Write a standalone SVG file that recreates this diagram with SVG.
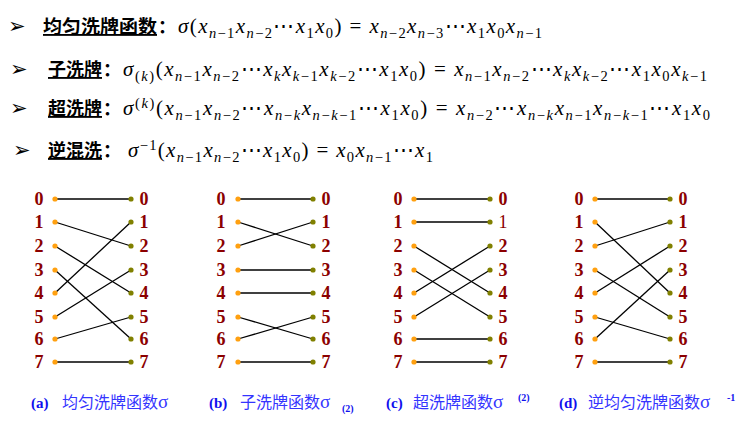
<svg xmlns="http://www.w3.org/2000/svg" width="741" height="427" viewBox="0 0 741 427">
<style>
.bul{font-family:"DejaVu Sans",sans-serif;font-size:21px;fill:#000}
.hd{font-family:"Noto Sans CJK SC",sans-serif;font-weight:bold;font-size:18.5px;fill:#000;text-decoration:underline}
.co{font-family:"Noto Sans CJK SC",sans-serif;font-weight:bold;font-size:18px;fill:#000}
.m{font-family:"Liberation Serif",serif;font-size:21px;fill:#000}
.i{font-style:italic}
.s{font-size:14.5px}
.num{font-family:"Liberation Serif",serif;font-weight:bold;font-size:18px;fill:#8B0000;text-anchor:middle}
.nr{font-weight:normal}
.ld{fill:#FFA010}
.rd{fill:#808000}
.cl{stroke:#000;stroke-width:1.3;fill:none}
.cap{font-family:"Liberation Serif",serif;font-weight:bold;font-size:15px;fill:#1010EE}
.ct{font-family:"Noto Sans CJK SC",sans-serif;font-size:16px;fill:#3434FF}
.cs{font-family:"Liberation Serif",serif;font-size:19px;fill:#3434FF}
.cx{font-family:"Liberation Serif",serif;font-weight:bold;font-size:10px;fill:#1010EE}
</style>
<rect width="741" height="427" fill="#fff"/>
<g id="formulas">
<text class="bul" x="8" y="33">➢</text>
<text class="hd" x="43" y="33" textLength="114" lengthAdjust="spacingAndGlyphs">均匀洗牌函数</text>
<text class="co" x="158" y="33">：</text>
<text class="m" x="178" y="33" textLength="364" lengthAdjust="spacing"><tspan class="i">σ</tspan>(<tspan class="i">x</tspan><tspan class="s" baseline-shift="-5"><tspan class="i">n</tspan>−1</tspan><tspan class="i">x</tspan><tspan class="s" baseline-shift="-5"><tspan class="i">n</tspan>−2</tspan>⋯<tspan class="i">x</tspan><tspan class="s" baseline-shift="-5">1</tspan><tspan class="i">x</tspan><tspan class="s" baseline-shift="-5">0</tspan>) = <tspan class="i">x</tspan><tspan class="s" baseline-shift="-5"><tspan class="i">n</tspan>−2</tspan><tspan class="i">x</tspan><tspan class="s" baseline-shift="-5"><tspan class="i">n</tspan>−3</tspan>⋯<tspan class="i">x</tspan><tspan class="s" baseline-shift="-5">1</tspan><tspan class="i">x</tspan><tspan class="s" baseline-shift="-5">0</tspan><tspan class="i">x</tspan><tspan class="s" baseline-shift="-5"><tspan class="i">n</tspan>−1</tspan></text>

<text class="bul" x="10" y="76">➢</text>
<text class="hd" x="48" y="76" textLength="54" lengthAdjust="spacingAndGlyphs">子洗牌</text>
<text class="co" x="103" y="76">：</text>
<text class="m" x="123" y="76" textLength="584" lengthAdjust="spacing"><tspan class="i">σ</tspan><tspan class="s" baseline-shift="-5">(<tspan class="i">k</tspan>)</tspan>(<tspan class="i">x</tspan><tspan class="s" baseline-shift="-5"><tspan class="i">n</tspan>−1</tspan><tspan class="i">x</tspan><tspan class="s" baseline-shift="-5"><tspan class="i">n</tspan>−2</tspan>⋯<tspan class="i">x</tspan><tspan class="s i" baseline-shift="-5">k</tspan><tspan class="i">x</tspan><tspan class="s" baseline-shift="-5"><tspan class="i">k</tspan>−1</tspan><tspan class="i">x</tspan><tspan class="s" baseline-shift="-5"><tspan class="i">k</tspan>−2</tspan>⋯<tspan class="i">x</tspan><tspan class="s" baseline-shift="-5">1</tspan><tspan class="i">x</tspan><tspan class="s" baseline-shift="-5">0</tspan>) = <tspan class="i">x</tspan><tspan class="s" baseline-shift="-5"><tspan class="i">n</tspan>−1</tspan><tspan class="i">x</tspan><tspan class="s" baseline-shift="-5"><tspan class="i">n</tspan>−2</tspan>⋯<tspan class="i">x</tspan><tspan class="s i" baseline-shift="-5">k</tspan><tspan class="i">x</tspan><tspan class="s" baseline-shift="-5"><tspan class="i">k</tspan>−2</tspan>⋯<tspan class="i">x</tspan><tspan class="s" baseline-shift="-5">1</tspan><tspan class="i">x</tspan><tspan class="s" baseline-shift="-5">0</tspan><tspan class="i">x</tspan><tspan class="s" baseline-shift="-5"><tspan class="i">k</tspan>−1</tspan></text>

<text class="bul" x="10" y="115">➢</text>
<text class="hd" x="48" y="115" textLength="54" lengthAdjust="spacingAndGlyphs">超洗牌</text>
<text class="co" x="103" y="115">：</text>
<text class="m" x="123" y="115" textLength="587" lengthAdjust="spacing"><tspan class="i">σ</tspan><tspan class="s" baseline-shift="7">(<tspan class="i">k</tspan>)</tspan>(<tspan class="i">x</tspan><tspan class="s" baseline-shift="-5"><tspan class="i">n</tspan>−1</tspan><tspan class="i">x</tspan><tspan class="s" baseline-shift="-5"><tspan class="i">n</tspan>−2</tspan>⋯<tspan class="i">x</tspan><tspan class="s" baseline-shift="-5"><tspan class="i">n</tspan>−<tspan class="i">k</tspan></tspan><tspan class="i">x</tspan><tspan class="s" baseline-shift="-5"><tspan class="i">n</tspan>−<tspan class="i">k</tspan>−1</tspan>⋯<tspan class="i">x</tspan><tspan class="s" baseline-shift="-5">1</tspan><tspan class="i">x</tspan><tspan class="s" baseline-shift="-5">0</tspan>) = <tspan class="i">x</tspan><tspan class="s" baseline-shift="-5"><tspan class="i">n</tspan>−2</tspan>⋯<tspan class="i">x</tspan><tspan class="s" baseline-shift="-5"><tspan class="i">n</tspan>−<tspan class="i">k</tspan></tspan><tspan class="i">x</tspan><tspan class="s" baseline-shift="-5"><tspan class="i">n</tspan>−1</tspan><tspan class="i">x</tspan><tspan class="s" baseline-shift="-5"><tspan class="i">n</tspan>−<tspan class="i">k</tspan>−1</tspan>⋯<tspan class="i">x</tspan><tspan class="s" baseline-shift="-5">1</tspan><tspan class="i">x</tspan><tspan class="s" baseline-shift="-5">0</tspan></text>

<text class="bul" x="13" y="157">➢</text>
<text class="hd" x="48" y="157" textLength="54" lengthAdjust="spacingAndGlyphs">逆混洗</text>
<text class="co" x="103" y="157">：</text>
<text class="m" x="128" y="157" textLength="305" lengthAdjust="spacing"><tspan class="i">σ</tspan><tspan class="s" baseline-shift="7">−1</tspan>(<tspan class="i">x</tspan><tspan class="s" baseline-shift="-5"><tspan class="i">n</tspan>−1</tspan><tspan class="i">x</tspan><tspan class="s" baseline-shift="-5"><tspan class="i">n</tspan>−2</tspan>⋯<tspan class="i">x</tspan><tspan class="s" baseline-shift="-5">1</tspan><tspan class="i">x</tspan><tspan class="s" baseline-shift="-5">0</tspan>) = <tspan class="i">x</tspan><tspan class="s" baseline-shift="-5">0</tspan><tspan class="i">x</tspan><tspan class="s" baseline-shift="-5"><tspan class="i">n</tspan>−1</tspan>⋯<tspan class="i">x</tspan><tspan class="s" baseline-shift="-5">1</tspan></text>
</g>

<g id="connectors">
<line class="cl" x1="55" y1="199" x2="131" y2="199"/>
<line class="cl" x1="55" y1="222" x2="131" y2="246"/>
<line class="cl" x1="55" y1="246" x2="131" y2="293"/>
<line class="cl" x1="55" y1="270" x2="131" y2="339"/>
<line class="cl" x1="55" y1="293" x2="131" y2="222"/>
<line class="cl" x1="55" y1="317" x2="131" y2="270"/>
<line class="cl" x1="55" y1="339" x2="131" y2="317"/>
<line class="cl" x1="55" y1="362" x2="131" y2="362"/>
<line class="cl" x1="238" y1="199" x2="313" y2="199"/>
<line class="cl" x1="238" y1="222" x2="313" y2="246"/>
<line class="cl" x1="238" y1="246" x2="313" y2="222"/>
<line class="cl" x1="238" y1="270" x2="313" y2="270"/>
<line class="cl" x1="238" y1="293" x2="313" y2="293"/>
<line class="cl" x1="238" y1="317" x2="313" y2="339"/>
<line class="cl" x1="238" y1="339" x2="313" y2="317"/>
<line class="cl" x1="238" y1="362" x2="313" y2="362"/>
<line class="cl" x1="414" y1="199" x2="490" y2="199"/>
<line class="cl" x1="414" y1="222" x2="490" y2="222"/>
<line class="cl" x1="414" y1="246" x2="490" y2="293"/>
<line class="cl" x1="414" y1="270" x2="490" y2="317"/>
<line class="cl" x1="414" y1="293" x2="490" y2="246"/>
<line class="cl" x1="414" y1="317" x2="490" y2="270"/>
<line class="cl" x1="414" y1="339" x2="490" y2="339"/>
<line class="cl" x1="414" y1="362" x2="490" y2="362"/>
<line class="cl" x1="595" y1="199" x2="670" y2="199"/>
<line class="cl" x1="595" y1="222" x2="670" y2="293"/>
<line class="cl" x1="595" y1="246" x2="670" y2="222"/>
<line class="cl" x1="595" y1="270" x2="670" y2="317"/>
<line class="cl" x1="595" y1="293" x2="670" y2="246"/>
<line class="cl" x1="595" y1="317" x2="670" y2="339"/>
<line class="cl" x1="595" y1="339" x2="670" y2="270"/>
<line class="cl" x1="595" y1="362" x2="670" y2="362"/>
</g>

<g id="a-in0"><text class="num" x="39" y="205">0</text><circle class="ld" cx="55" cy="199" r="2.6"/></g>
<g id="a-in1"><text class="num" x="39" y="228">1</text><circle class="ld" cx="55" cy="222" r="2.6"/></g>
<g id="a-in2"><text class="num" x="39" y="252">2</text><circle class="ld" cx="55" cy="246" r="2.6"/></g>
<g id="a-in3"><text class="num" x="39" y="276">3</text><circle class="ld" cx="55" cy="270" r="2.6"/></g>
<g id="a-in4"><text class="num" x="39" y="299">4</text><circle class="ld" cx="55" cy="293" r="2.6"/></g>
<g id="a-in5"><text class="num" x="39" y="323">5</text><circle class="ld" cx="55" cy="317" r="2.6"/></g>
<g id="a-in6"><text class="num" x="39" y="345">6</text><circle class="ld" cx="55" cy="339" r="2.6"/></g>
<g id="a-in7"><text class="num" x="39" y="368">7</text><circle class="ld" cx="55" cy="362" r="2.6"/></g>
<g id="a-out0"><circle class="rd" cx="131" cy="199" r="2.6"/><text class="num" x="144" y="205">0</text></g>
<g id="a-out1"><circle class="rd" cx="131" cy="222" r="2.6"/><text class="num" x="144" y="228">1</text></g>
<g id="a-out2"><circle class="rd" cx="131" cy="246" r="2.6"/><text class="num" x="144" y="252">2</text></g>
<g id="a-out3"><circle class="rd" cx="131" cy="270" r="2.6"/><text class="num" x="144" y="276">3</text></g>
<g id="a-out4"><circle class="rd" cx="131" cy="293" r="2.6"/><text class="num" x="144" y="299">4</text></g>
<g id="a-out5"><circle class="rd" cx="131" cy="317" r="2.6"/><text class="num" x="144" y="323">5</text></g>
<g id="a-out6"><circle class="rd" cx="131" cy="339" r="2.6"/><text class="num" x="144" y="345">6</text></g>
<g id="a-out7"><circle class="rd" cx="131" cy="362" r="2.6"/><text class="num" x="144" y="368">7</text></g>

<g id="b-in0"><text class="num" x="221" y="205">0</text><circle class="ld" cx="238" cy="199" r="2.6"/></g>
<g id="b-in1"><text class="num" x="221" y="228">1</text><circle class="ld" cx="238" cy="222" r="2.6"/></g>
<g id="b-in2"><text class="num" x="221" y="252">2</text><circle class="ld" cx="238" cy="246" r="2.6"/></g>
<g id="b-in3"><text class="num" x="221" y="276">3</text><circle class="ld" cx="238" cy="270" r="2.6"/></g>
<g id="b-in4"><text class="num" x="221" y="299">4</text><circle class="ld" cx="238" cy="293" r="2.6"/></g>
<g id="b-in5"><text class="num" x="221" y="323">5</text><circle class="ld" cx="238" cy="317" r="2.6"/></g>
<g id="b-in6"><text class="num" x="221" y="345">6</text><circle class="ld" cx="238" cy="339" r="2.6"/></g>
<g id="b-in7"><text class="num" x="221" y="368">7</text><circle class="ld" cx="238" cy="362" r="2.6"/></g>
<g id="b-out0"><circle class="rd" cx="313" cy="199" r="2.6"/><text class="num" x="326" y="205">0</text></g>
<g id="b-out1"><circle class="rd" cx="313" cy="222" r="2.6"/><text class="num" x="326" y="228">1</text></g>
<g id="b-out2"><circle class="rd" cx="313" cy="246" r="2.6"/><text class="num" x="326" y="252">2</text></g>
<g id="b-out3"><circle class="rd" cx="313" cy="270" r="2.6"/><text class="num" x="326" y="276">3</text></g>
<g id="b-out4"><circle class="rd" cx="313" cy="293" r="2.6"/><text class="num" x="326" y="299">4</text></g>
<g id="b-out5"><circle class="rd" cx="313" cy="317" r="2.6"/><text class="num" x="326" y="323">5</text></g>
<g id="b-out6"><circle class="rd" cx="313" cy="339" r="2.6"/><text class="num" x="326" y="345">6</text></g>
<g id="b-out7"><circle class="rd" cx="313" cy="362" r="2.6"/><text class="num" x="326" y="368">7</text></g>

<g id="c-in0"><text class="num" x="398" y="205">0</text><circle class="ld" cx="414" cy="199" r="2.6"/></g>
<g id="c-in1"><text class="num" x="398" y="228">1</text><circle class="ld" cx="414" cy="222" r="2.6"/></g>
<g id="c-in2"><text class="num" x="398" y="252">2</text><circle class="ld" cx="414" cy="246" r="2.6"/></g>
<g id="c-in3"><text class="num" x="398" y="276">3</text><circle class="ld" cx="414" cy="270" r="2.6"/></g>
<g id="c-in4"><text class="num" x="398" y="299">4</text><circle class="ld" cx="414" cy="293" r="2.6"/></g>
<g id="c-in5"><text class="num" x="398" y="323">5</text><circle class="ld" cx="414" cy="317" r="2.6"/></g>
<g id="c-in6"><text class="num" x="398" y="345">6</text><circle class="ld" cx="414" cy="339" r="2.6"/></g>
<g id="c-in7"><text class="num" x="398" y="368">7</text><circle class="ld" cx="414" cy="362" r="2.6"/></g>
<g id="c-out0"><circle class="rd" cx="490" cy="199" r="2.6"/><text class="num" x="503" y="205">0</text></g>
<g id="c-out1"><circle class="rd" cx="490" cy="222" r="2.6"/><text class="num nr" x="503" y="228">1</text></g>
<g id="c-out2"><circle class="rd" cx="490" cy="246" r="2.6"/><text class="num" x="503" y="252">2</text></g>
<g id="c-out3"><circle class="rd" cx="490" cy="270" r="2.6"/><text class="num" x="503" y="276">3</text></g>
<g id="c-out4"><circle class="rd" cx="490" cy="293" r="2.6"/><text class="num" x="503" y="299">4</text></g>
<g id="c-out5"><circle class="rd" cx="490" cy="317" r="2.6"/><text class="num" x="503" y="323">5</text></g>
<g id="c-out6"><circle class="rd" cx="490" cy="339" r="2.6"/><text class="num" x="503" y="345">6</text></g>
<g id="c-out7"><circle class="rd" cx="490" cy="362" r="2.6"/><text class="num" x="503" y="368">7</text></g>

<g id="d-in0"><text class="num" x="579" y="205">0</text><circle class="ld" cx="595" cy="199" r="2.6"/></g>
<g id="d-in1"><text class="num" x="579" y="228">1</text><circle class="ld" cx="595" cy="222" r="2.6"/></g>
<g id="d-in2"><text class="num" x="579" y="252">2</text><circle class="ld" cx="595" cy="246" r="2.6"/></g>
<g id="d-in3"><text class="num" x="579" y="276">3</text><circle class="ld" cx="595" cy="270" r="2.6"/></g>
<g id="d-in4"><text class="num" x="579" y="299">4</text><circle class="ld" cx="595" cy="293" r="2.6"/></g>
<g id="d-in5"><text class="num" x="579" y="323">5</text><circle class="ld" cx="595" cy="317" r="2.6"/></g>
<g id="d-in6"><text class="num" x="579" y="345">6</text><circle class="ld" cx="595" cy="339" r="2.6"/></g>
<g id="d-in7"><text class="num" x="579" y="368">7</text><circle class="ld" cx="595" cy="362" r="2.6"/></g>
<g id="d-out0"><circle class="rd" cx="670" cy="199" r="2.6"/><text class="num" x="683" y="205">0</text></g>
<g id="d-out1"><circle class="rd" cx="670" cy="222" r="2.6"/><text class="num" x="683" y="228">1</text></g>
<g id="d-out2"><circle class="rd" cx="670" cy="246" r="2.6"/><text class="num" x="683" y="252">2</text></g>
<g id="d-out3"><circle class="rd" cx="670" cy="270" r="2.6"/><text class="num" x="683" y="276">3</text></g>
<g id="d-out4"><circle class="rd" cx="670" cy="293" r="2.6"/><text class="num" x="683" y="299">4</text></g>
<g id="d-out5"><circle class="rd" cx="670" cy="317" r="2.6"/><text class="num" x="683" y="323">5</text></g>
<g id="d-out6"><circle class="rd" cx="670" cy="339" r="2.6"/><text class="num" x="683" y="345">6</text></g>
<g id="d-out7"><circle class="rd" cx="670" cy="362" r="2.6"/><text class="num" x="683" y="368">7</text></g>

<g id="captions">
<text class="cap" x="31" y="408">(a)</text>
<text x="62" y="408"><tspan class="ct">均匀洗牌函数</tspan><tspan class="cs">σ</tspan></text>
<text class="cap" x="209" y="408">(b)</text>
<text x="240" y="408"><tspan class="ct">子洗牌函数</tspan><tspan class="cs">σ</tspan></text>
<text class="cx" x="342" y="412">(2)</text>
<text class="cap" x="386" y="408">(c)</text>
<text x="413" y="408"><tspan class="ct">超洗牌函数</tspan><tspan class="cs">σ</tspan></text>
<text class="cx" x="518" y="401">(2)</text>
<text class="cap" x="559" y="408">(d)</text>
<text x="588" y="408"><tspan class="ct">逆均匀洗牌函数</tspan><tspan class="cs">σ</tspan></text>
<text class="cx" x="727" y="401">-1</text>
</g>
</svg>
